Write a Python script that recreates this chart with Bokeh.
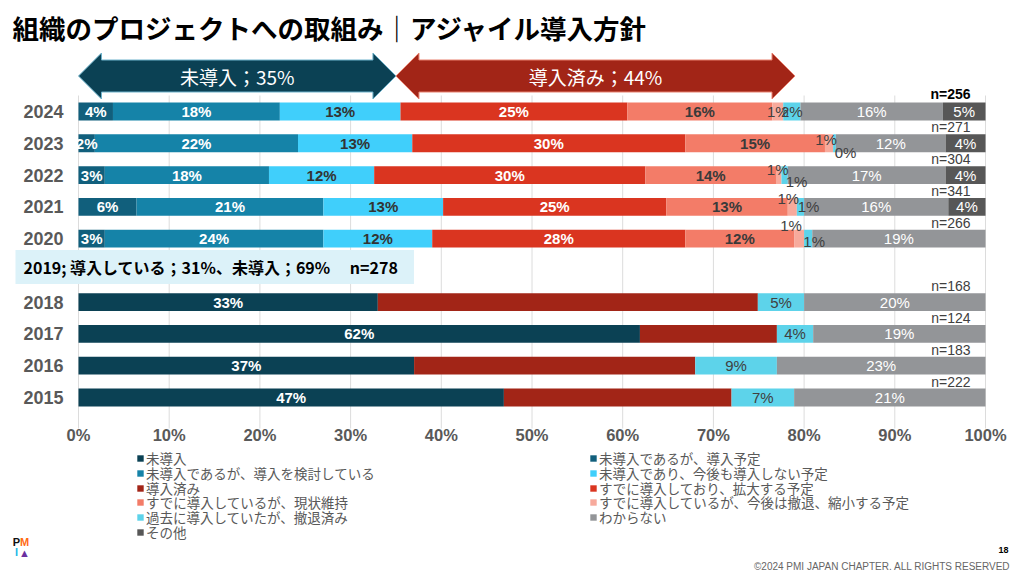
from bokeh.plotting import figure
from bokeh.models import (ColumnDataSource, Range1d, FixedTicker, PrintfTickFormatter,
                          Label, Legend, LegendItem)
from bokeh.core.properties import value
from bokeh.embed import file_html
from bokeh.resources import INLINE

# ---------------- data ----------------
title_text = "組織のプロジェクトへの取組み｜アジャイル導入方針"

series = [
    "未導入",
    "未導入であるが、導入予定",
    "未導入であるが、導入を検討している",
    "未導入であり、今後も導入しない予定",
    "導入済み",
    "すでに導入しており、拡大する予定",
    "すでに導入しているが、現状維持",
    "すでに導入しているが、今後は撤退、縮小する予定",
    "過去に導入していたが、撤退済み",
    "わからない",
    "その他",
]
colors = ["#0b4154", "#115f7c", "#1583a8", "#40cffb", "#a22517", "#da3520",
          "#f37c68", "#f7aa9c", "#5dd3ea", "#939598", "#575757"]

years = ["2024", "2023", "2022", "2021", "2020", "2018", "2017", "2016", "2015"]
n_values = [256, 271, 304, 341, 266, 168, 124, 183, 222]

v_mi       = [0, 0, 0, 0, 0, 33.0, 61.9, 37.0, 46.9]
v_yotei    = [3.8, 1.8, 2.9, 6.4, 2.9, 0, 0, 0, 0]
v_kento    = [18.4, 22.4, 18.1, 20.6, 24.1, 0, 0, 0, 0]
v_shinai   = [13.3, 12.6, 11.6, 13.2, 12.0, 0, 0, 0, 0]
v_sumi     = [0, 0, 0, 0, 0, 41.9, 15.1, 31.0, 25.1]
v_kakudai  = [25.0, 30.1, 29.9, 24.6, 27.9, 0, 0, 0, 0]
v_iji      = [16.0, 15.4, 14.4, 13.4, 12.0, 0, 0, 0, 0]
v_shukusho = [1.2, 0.9, 0.6, 1.0, 1.1, 0, 0, 0, 0]
v_tettai   = [1.9, 0.3, 0.7, 0.8, 0.9, 5.1, 4.0, 9.0, 6.9]
v_wakaranai = [15.7, 12.1, 17.4, 15.9, 19.1, 20.0, 19.0, 23.0, 21.1]
v_sonota   = [4.7, 4.4, 4.4, 4.1, 0, 0, 0, 0, 0]

values = [v_mi, v_yotei, v_kento, v_shinai, v_sumi, v_kakudai, v_iji,
          v_shukusho, v_tettai, v_wakaranai, v_sonota]

arrow_labels = ["未導入；35%", "導入済み；44%"]
arrow_values = [35, 44]
arrow_colors = ["#0b4154", "#a22517"]
arrow_edges = ["#6fb3cc", "#e8806e"]

summary_2019 = "2019; 導入している；31%、未導入；69%　  n=278"

x_ticks = list(range(0, 101, 10))

copyright_text = "©2024 PMI JAPAN CHAPTER. ALL RIGHTS RESERVED"
page_no = "18"

# ---------------- layout helpers ----------------
W, H = 1024, 576
X0 = 78          # pixel of 0 %
PCT_PX = 9.07
ROW_PX = 31.78
Y0 = 397         # pixel of the 2015 row
row_of_year = {"2024": 9, "2023": 8, "2022": 7, "2021": 6, "2020": 5,
               "2019": 4, "2018": 3, "2017": 2, "2016": 1, "2015": 0}
row_pos = [row_of_year[y] for y in years]

def dx(px):
    return (px - X0) / PCT_PX

def dy(py):
    return (Y0 - py) / ROW_PX

AXIS_Y = dy(425)
GRID_BOTTOM = dy(428)
GRID_TOP = dy(95)
BAR_H = 0.56
ARROW_Y = dy(75.5)
HEAD_HALF = 23 / ROW_PX
SHAFT_HALF = 16 / ROW_PX
HEAD_LEN = 23 / PCT_PX

FONT_NUM = "Liberation Sans"
FONT_JP = "Noto Sans CJK JP"

label_style = [("white", True), ("white", True), ("white", True), ("#333333", True),
               None, ("white", True), ("#3a3a3a", True), ("#404040", False),
               ("#404040", False), ("white", False), ("white", False)]
nudges = {("2023", 7): (-3, -4), ("2023", 8): (11, 9),
          ("2022", 7): (-1, -6), ("2022", 8): (12, 6),
          ("2021", 7): (-4, -8), ("2021", 8): (8, 0),
          ("2020", 7): (-8, -13), ("2020", 8): (6, 3)}

# ---------------- figure ----------------
p = figure(width=W, height=H, output_backend="svg", toolbar_location=None,
           x_range=Range1d(dx(0), dx(W)), y_range=Range1d(dy(H), dy(0)),
           min_border=0)
p.outline_line_color = None
p.xgrid.visible = False
p.ygrid.visible = False

# grid lines
p.segment(x0=x_ticks, y0=[GRID_BOTTOM] * len(x_ticks), x1=x_ticks,
          y1=[GRID_TOP] * len(x_ticks), line_color="#dcdcdc", line_width=1)

# stacked bars
keys = [f"s{i}" for i in range(len(series))]
data = {"y": row_pos}
for k, v in zip(keys, values):
    data[k] = v
src = ColumnDataSource(data)
renderers = p.hbar_stack(keys, y="y", height=BAR_H, color=colors, source=src, line_width=0)

# segment labels
lab = {True: dict(x=[], y=[], t=[], c=[], ox=[], oy=[]),
       False: dict(x=[], y=[], t=[], c=[], ox=[], oy=[])}
for i, yr in enumerate(years):
    cum = 0.0
    for j, vals in enumerate(values):
        v = vals[i]
        st = label_style[j]
        if st is not None and (v > 0 or (yr, j) in nudges):
            ox, oy = nudges.get((yr, j), (0, 0))
            d = lab[st[1]]
            d["x"].append(cum + v / 2)
            d["y"].append(row_pos[i])
            d["t"].append(f"{v:.0f}%")
            d["c"].append(st[0])
            d["ox"].append(ox)
            d["oy"].append(oy)
        cum += v
for bold, d in lab.items():
    p.text(x="x", y="y", text="t", text_color="c", x_offset="ox", y_offset="oy",
           source=ColumnDataSource(d), text_align="center", text_baseline="middle",
           text_font=value(FONT_NUM), text_font_size="15px",
           text_font_style="bold" if bold else "normal")

# n labels
p.text(x=[100], y=[row_pos[0]], text=[f"n={n_values[0]}"], x_offset=-15, y_offset=-17,
       text_align="right", text_baseline="middle", text_font=value(FONT_NUM),
       text_font_size="14px", text_font_style="bold", text_color="black")
p.text(x=[100] * (len(years) - 1), y=row_pos[1:], text=[f"n={n}" for n in n_values[1:]],
       x_offset=-15, y_offset=-16, text_align="right", text_baseline="middle",
       text_font=value(FONT_NUM), text_font_size="14px", text_color="#404040")

# arrows
xs, ys, ax, ay = [], [], [], []
start = 0
for val in arrow_values:
    a, b = start, start + val
    c = ARROW_Y
    xs.append([a, a + HEAD_LEN, a + HEAD_LEN, b - HEAD_LEN, b - HEAD_LEN, b,
               b - HEAD_LEN, b - HEAD_LEN, a + HEAD_LEN, a + HEAD_LEN])
    ys.append([c, c + HEAD_HALF, c + SHAFT_HALF, c + SHAFT_HALF, c + HEAD_HALF, c,
               c - HEAD_HALF, c - SHAFT_HALF, c - SHAFT_HALF, c - HEAD_HALF])
    ax.append((a + b) / 2)
    ay.append(c)
    start = b
p.patches(xs=xs, ys=ys, fill_color=arrow_colors, line_color=arrow_edges, line_width=1)
p.text(x=ax, y=ay, text=arrow_labels, text_color="white", text_align="center",
       text_baseline="middle", text_font=value(FONT_JP), text_font_size="19px")

# axes drawn at fixed locations inside the canvas
xa = p.xaxis[0]
xa.fixed_location = AXIS_Y
xa.ticker = FixedTicker(ticks=x_ticks)
xa.formatter = PrintfTickFormatter(format="%d%%")
ya = p.yaxis[0]
ya.fixed_location = 0
ya.ticker = FixedTicker(ticks=row_pos)
ya.major_label_overrides = {r: y for r, y in zip(row_pos, years)}
for a in (xa, ya):
    a.axis_line_color = None
    a.major_tick_line_color = None
    a.minor_tick_line_color = None
    a.major_tick_out = 0
    a.major_tick_in = 0
    a.major_label_text_font = FONT_NUM
    a.major_label_text_font_style = "bold"
    a.major_label_text_color = "#595959"
xa.major_label_text_font_size = "16.5px"
ya.major_label_text_font_size = "18px"
xa.major_label_standoff = 0
ya.major_label_standoff = 15

# title
p.add_layout(Label(x=dx(12), y=dy(27), text=title_text, text_font=FONT_JP,
                   text_font_size="26.5px", text_font_style="bold", text_color="black",
                   text_baseline="middle", text_align="left"))

# 2019 summary box
p.add_layout(Label(x=dx(15), y=dy(266.5), text=summary_2019, text_font=FONT_JP,
                   text_font_size="16px", text_font_style="bold", text_color="black",
                   text_baseline="middle", text_align="left",
                   background_fill_color="#dcf2f9",
                   padding=dict(left=8, right=12, top=5, bottom=5)))

# legend: two columns, one Legend per row so the row pitch matches
LEG_X = 136
LEG_ROW_Y = [458, 473, 487.5, 502, 517, 531.5]
items = [LegendItem(label=s, renderers=[r]) for s, r in zip(series, renderers)]
for k, ry in enumerate(LEG_ROW_Y):
    row_items = items[2 * k: 2 * k + 2]
    lg = Legend(items=row_items, location=(LEG_X, H - (ry + 10)),
                orientation="horizontal", glyph_width=8, glyph_height=8,
                label_standoff=2, label_width=443, label_height=15, spacing=0,
                padding=0, margin=0, border_line_color=None, background_fill_alpha=0,
                label_text_font=FONT_JP, label_text_font_size="13.5px",
                label_text_color="#595959")
    p.add_layout(lg)

# footer
p.add_layout(Label(x=dx(1010), y=dy(566), text=copyright_text, text_font=FONT_NUM,
                   text_font_size="10px", text_color="#666666", text_align="right",
                   text_baseline="middle"))
p.add_layout(Label(x=dx(1003), y=dy(549), text=page_no, text_font=FONT_NUM,
                   text_font_size="9px", text_font_style="bold", text_color="black",
                   text_align="center", text_baseline="middle"))
for t, c, lx, ly in [("P", "#111111", 16, 541), ("M", "#ff6a13", 24, 541),
                     ("I", "#22b8e6", 16, 551), ("▲", "#6b2fa0", 24, 552)]:
    p.add_layout(Label(x=dx(lx), y=dy(ly), text=t, text_font=FONT_NUM, text_font_size="11px",
                       text_font_style="bold", text_color=c, text_align="center",
                       text_baseline="middle"))

open("out.html", "w").write(file_html(p, INLINE))
